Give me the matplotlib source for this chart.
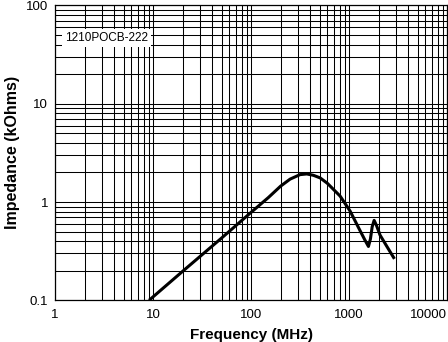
import numpy as np
import matplotlib.pyplot as plt
from matplotlib.ticker import LogLocator, FixedLocator, NullFormatter

plt.rcParams['font.family'] = ['Liberation Sans', 'DejaVu Sans']

# Impedance curve (MHz, kOhms)
freq = [9.1, 20, 50, 100, 150, 200, 250, 316, 370, 432, 506, 600, 809,
        1023, 1295, 1450, 1575, 1650, 1720, 1800, 1900, 2070, 2400, 2900]
impedance = [0.1, 0.197, 0.43, 0.785, 1.11, 1.45, 1.71, 1.90, 1.93, 1.87,
             1.76, 1.55, 1.15, 0.81, 0.51, 0.41, 0.353, 0.42, 0.56, 0.65,
             0.58, 0.46, 0.36, 0.264]

x_ticks = [1, 10, 100, 1000, 10000]
x_labels = ['1', '10', '100', '1000', '10000']
y_ticks = [0.1, 1, 10, 100]
y_labels = ['0.1', '1', '10', '100']
part_name = '1210POCB-222'

fig = plt.figure(figsize=(4.48, 3.42), dpi=100)
ax = fig.add_axes([0.123, 0.122, 0.875, 0.862])

ax.set_xscale('log')
ax.set_yscale('log')
ax.set_xlim(1, 10000)
ax.set_ylim(0.1, 100)

ax.xaxis.set_major_locator(FixedLocator(x_ticks))
ax.yaxis.set_major_locator(FixedLocator(y_ticks))
ax.xaxis.set_minor_locator(LogLocator(base=10, subs=np.arange(2, 10)))
ax.yaxis.set_minor_locator(LogLocator(base=10, subs=np.arange(2, 10)))
ax.xaxis.set_minor_formatter(NullFormatter())
ax.yaxis.set_minor_formatter(NullFormatter())
ax.set_xticklabels(x_labels, fontsize=9.5)
ax.set_yticklabels(y_labels, fontsize=9.5)
ax.get_xticklabels()[-1].set_horizontalalignment('right')
ax.tick_params(which='both', length=0)
ax.tick_params(axis='x', pad=6)
ax.tick_params(axis='y', pad=5)

ax.grid(True, which='both', color='black', linewidth=0.75)
ax.set_axisbelow(True)
for s in ax.spines.values():
    s.set_linewidth(0.9)

ax.plot(freq, impedance, color='black', linewidth=2.2,
        solid_capstyle='butt', zorder=3)

ax.text(1.26, 47, part_name, fontsize=8.5, va='center', ha='left', zorder=4,
        bbox=dict(boxstyle='square,pad=0.25', facecolor='white',
                  edgecolor='none'))

ax.set_xlabel('Frequency (MHz)', fontsize=11, fontweight='bold', labelpad=5)
ax.set_ylabel('Impedance (kOhms)', fontsize=11.5, fontweight='bold', labelpad=4)

fig.savefig('out.png', dpi=100)
